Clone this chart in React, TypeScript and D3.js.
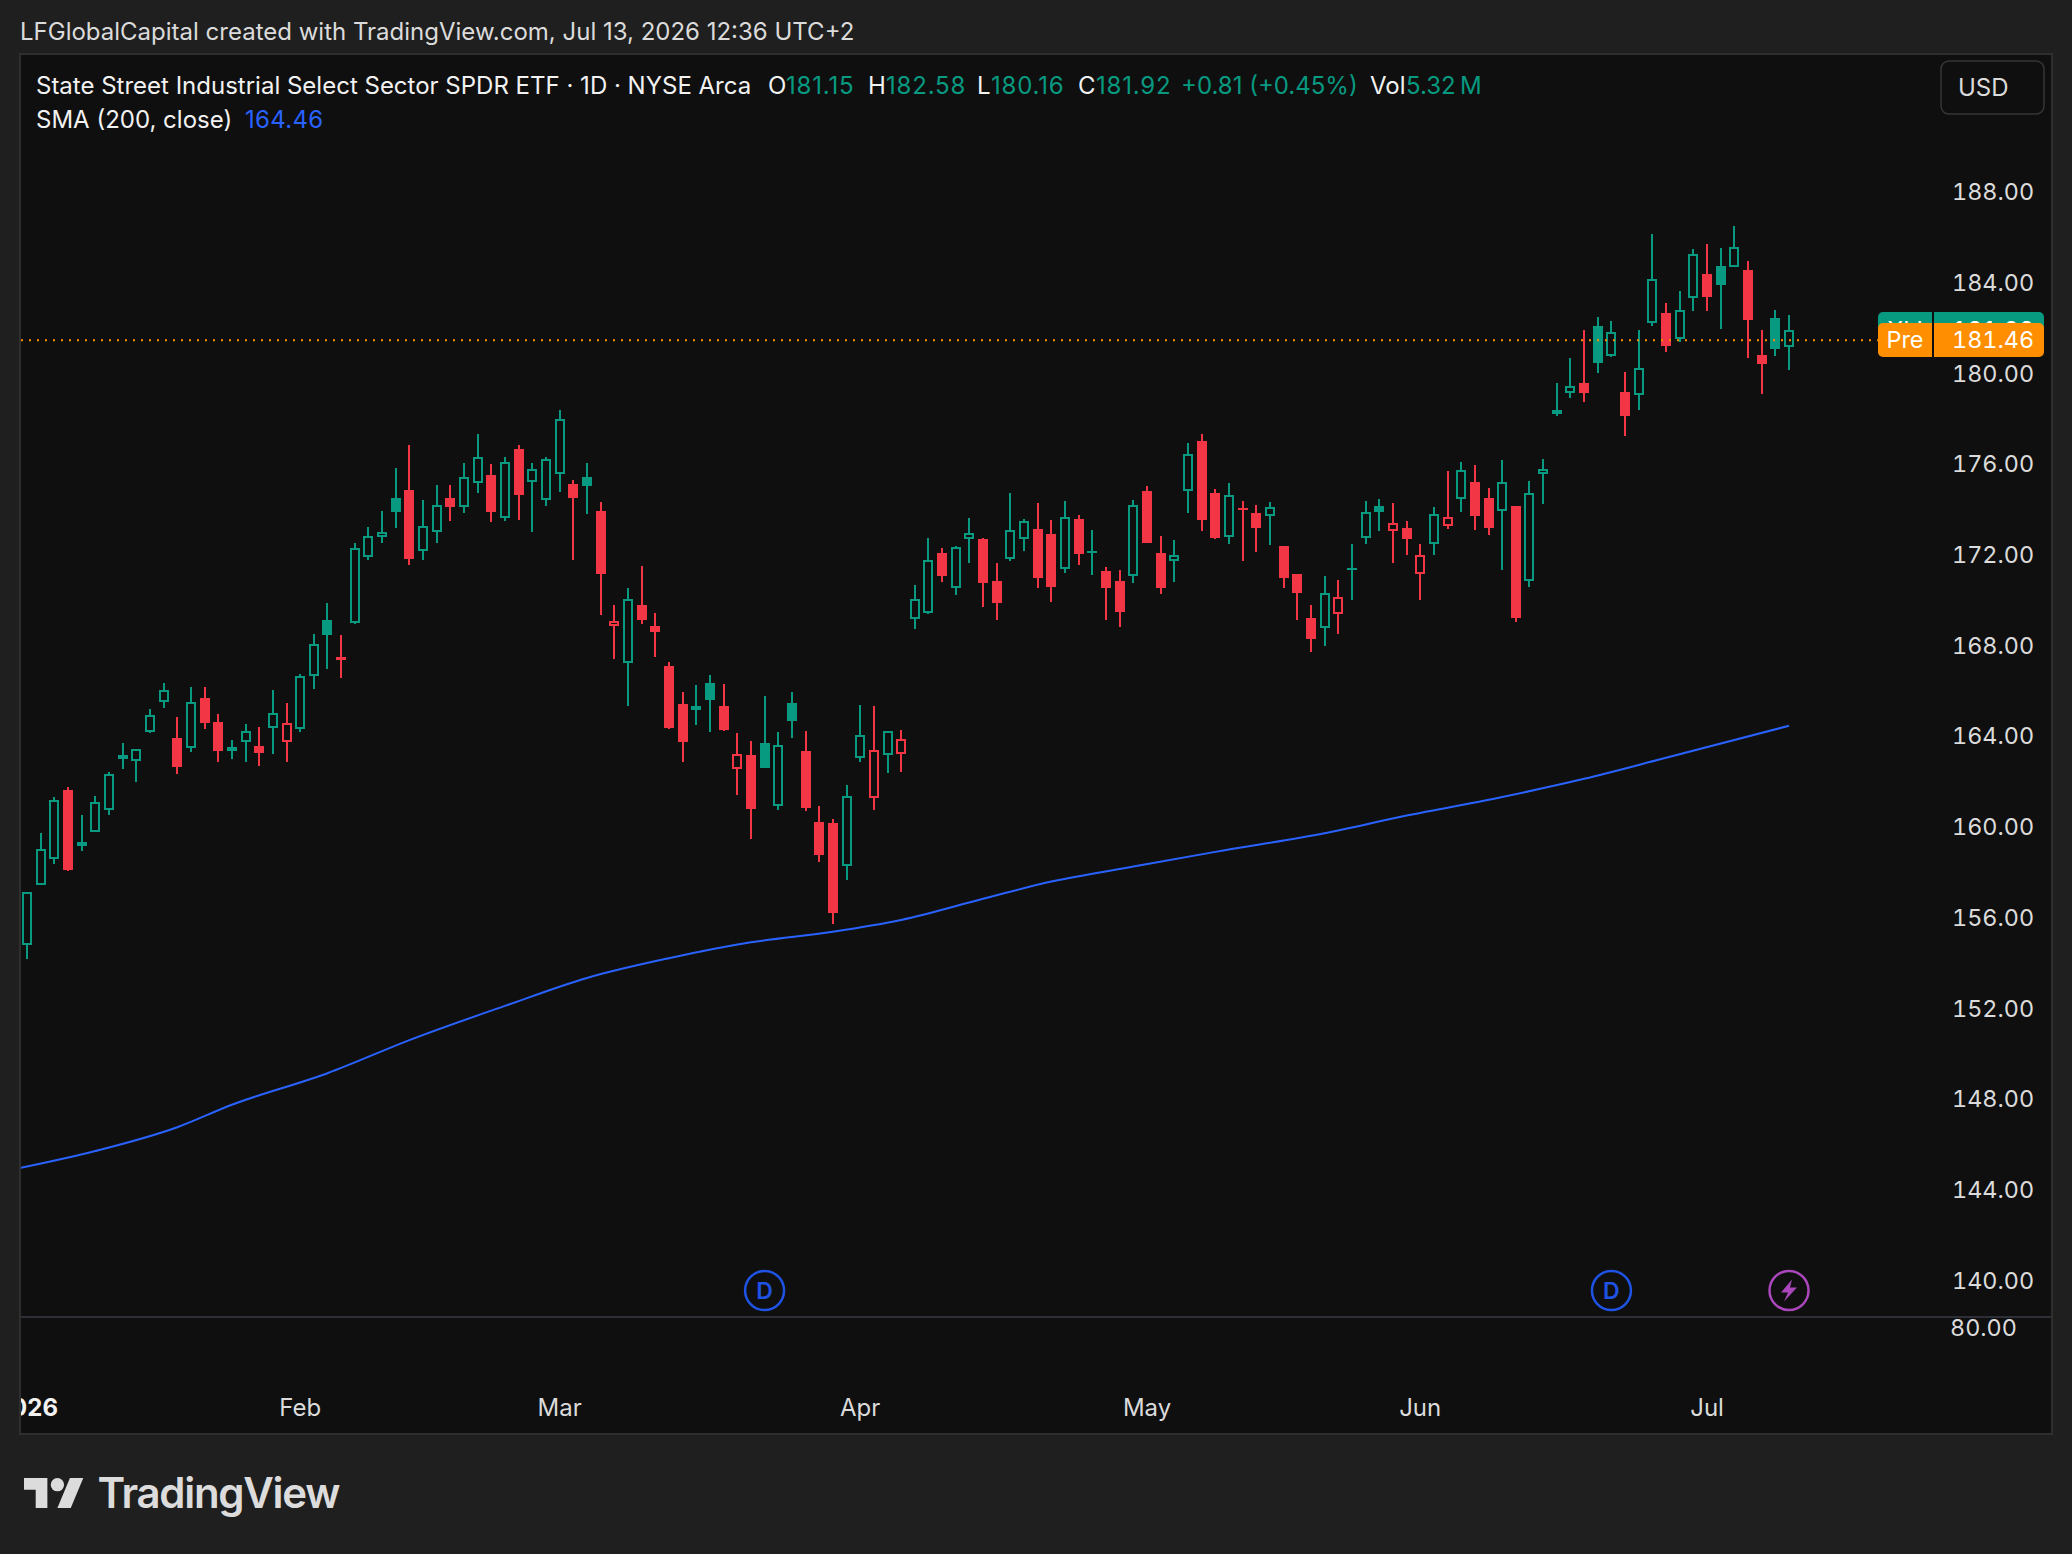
import React from 'react';
import * as d3 from 'd3';

const opens = [
  154.78, 157.45, 158.6, 161.63, 159.16, 159.79, 160.76, 162.99, 162.92, 164.2,
  165.52, 163.92, 163.49, 165.68, 164.63, 163.35, 163.76, 163.57, 164.38, 163.76,
  164.33, 166.64, 169.12, 167.49, 168.99, 171.9, 172.78, 174.5, 174.86, 172.17,
  173.0, 174.5, 174.11, 175.16, 175.52, 173.62, 176.66, 175.21, 174.41, 175.56,
  175.12, 175.43, 173.93, 168.86, 167.23, 169.78, 168.86, 167.1, 165.42, 165.15,
  166.35, 165.33, 162.57, 163.17, 163.7, 160.92, 165.46, 163.35, 160.22, 160.17,
  158.28, 163.05, 161.29, 163.16, 163.23, 169.18, 169.45, 172.08, 170.55, 172.71,
  172.69, 170.84, 171.83, 172.71, 173.14, 172.91, 171.39, 173.58, 172.08, 171.28,
  170.84, 171.06, 174.81, 172.08, 171.74, 174.83, 177.02, 174.72, 172.8, 174.06,
  173.84, 173.71, 172.39, 171.15, 169.21, 168.78, 169.4, 171.33, 172.75, 174.15,
  173.06, 173.18, 171.17, 172.49, 173.28, 174.47, 175.21, 174.5, 173.94, 174.15,
  170.84, 175.57, 178.21, 179.15, 179.57, 182.09, 180.78, 179.18, 179.06, 182.23,
  182.66, 181.53, 183.33, 184.38, 184.73, 184.7, 184.55, 180.81, 182.44, 181.15,
];
const highs = [
  157.14, 159.72, 161.3, 161.76, 160.51, 161.36, 162.42, 163.7, 163.42, 165.2,
  166.35, 164.85, 166.17, 166.17, 164.98, 163.83, 164.54, 164.41, 166.04, 165.46,
  166.74, 168.5, 169.87, 168.46, 172.52, 173.22, 173.93, 175.83, 176.84, 174.41,
  175.08, 175.08, 176.05, 177.32, 176.0, 176.31, 176.84, 176.05, 176.31, 178.38,
  175.3, 176.05, 174.33, 169.78, 170.53, 171.5, 169.43, 167.27, 165.95, 166.26,
  166.7, 166.3, 164.14, 163.79, 165.77, 164.19, 165.95, 164.23, 160.92, 160.35,
  161.85, 165.38, 165.33, 164.23, 164.27, 170.67, 172.74, 172.3, 172.39, 173.62,
  172.74, 171.64, 174.72, 173.58, 174.28, 173.53, 174.37, 173.75, 173.09, 171.46,
  171.33, 174.41, 175.03, 172.83, 172.65, 176.93, 177.32, 174.9, 175.16, 174.37,
  174.19, 174.33, 172.39, 171.15, 169.78, 171.06, 170.89, 172.47, 174.37, 174.46,
  174.28, 173.49, 172.47, 174.1, 175.69, 176.09, 175.96, 174.94, 176.18, 174.15,
  175.25, 176.22, 179.57, 180.67, 181.91, 182.48, 182.31, 180.06, 181.91, 186.14,
  183.1, 183.63, 185.48, 185.7, 185.52, 186.49, 184.95, 181.91, 182.79, 182.58,
];
const lows = [
  154.18, 157.45, 158.36, 158.06, 158.94, 159.79, 160.53, 162.55, 161.98, 164.14,
  165.24, 162.33, 163.3, 164.32, 162.86, 162.99, 162.86, 162.69, 163.22, 162.86,
  164.19, 166.08, 166.96, 166.57, 168.95, 171.77, 172.52, 173.18, 171.55, 171.77,
  172.52, 173.49, 173.84, 174.72, 173.44, 173.49, 173.53, 173.0, 174.15, 174.77,
  171.77, 173.8, 169.34, 167.4, 165.35, 168.95, 167.49, 164.32, 162.86, 164.49,
  164.19, 164.23, 161.41, 159.47, 162.6, 160.75, 163.92, 160.7, 158.45, 155.72,
  157.66, 162.86, 160.75, 162.38, 162.42, 168.73, 169.39, 170.8, 170.23, 171.64,
  169.7, 169.12, 171.72, 172.17, 170.53, 169.92, 171.2, 171.55, 171.11, 169.12,
  168.81, 170.75, 172.52, 170.27, 170.8, 173.84, 173.05, 172.69, 172.47, 171.72,
  172.12, 172.43, 170.53, 169.12, 167.71, 167.98, 168.51, 170.0, 172.47, 173.05,
  171.64, 171.99, 170.0, 171.99, 173.14, 173.89, 173.09, 172.87, 171.33, 169.03,
  170.58, 174.24, 178.12, 178.91, 178.73, 180.01, 180.72, 177.24, 178.38, 182.09,
  180.94, 181.38, 182.75, 182.75, 181.95, 184.7, 180.67, 179.09, 180.76, 180.16,
];
const closes = [
  157.14, 159.01, 161.17, 158.1, 159.33, 161.08, 162.32, 163.17, 163.42, 164.92,
  166.02, 162.64, 165.49, 164.58, 163.35, 163.52, 164.21, 163.26, 165.01, 164.57,
  166.64, 168.05, 168.46, 167.36, 172.28, 172.81, 172.99, 173.89, 171.81, 173.25,
  174.18, 174.11, 175.41, 176.3, 173.89, 176.07, 174.63, 175.77, 176.21, 177.97,
  174.5, 175.03, 171.15, 169.08, 170.03, 169.12, 168.59, 164.36, 163.74, 165.33,
  165.6, 164.27, 163.2, 160.79, 162.6, 163.6, 164.67, 160.83, 158.76, 156.2,
  161.35, 164.04, 163.38, 164.21, 163.86, 170.03, 171.75, 171.06, 172.33, 172.94,
  170.75, 169.87, 173.08, 173.47, 170.97, 170.58, 173.65, 172.03, 172.17, 170.53,
  169.48, 174.18, 172.52, 170.53, 171.97, 176.43, 173.53, 172.74, 174.62, 173.97,
  173.18, 174.09, 170.97, 170.31, 168.28, 170.3, 170.12, 171.42, 173.87, 173.88,
  173.38, 172.69, 171.97, 173.78, 173.65, 175.72, 173.71, 173.18, 175.19, 169.21,
  174.71, 175.77, 178.38, 179.43, 179.13, 180.45, 181.81, 178.12, 180.22, 184.14,
  181.2, 182.78, 185.25, 183.36, 183.89, 185.55, 182.35, 180.41, 181.07, 181.92,
];

const smaIndex = [-1, 5, 11, 15, 22, 28, 35, 41, 47, 53, 59, 64, 70, 75, 81, 87, 95, 101, 108, 114, 120, 129];
const smaValues = [
  144.9, 145.71, 146.76, 147.75, 149.14, 150.6, 152.11, 153.34, 154.21, 154.91, 155.38,
  155.9, 156.83, 157.59, 158.25, 158.9, 159.72, 160.5, 161.32, 162.12, 163.05, 164.46,
];

const priceTicks = [188, 184, 180, 176, 172, 168, 164, 160, 156, 152, 148, 144, 140];
const monthLabels = ['2026', 'Feb', 'Mar', 'Apr', 'May', 'Jun', 'Jul'];
const monthIndex = [0, 20, 39, 61, 82, 102, 123];
const dividendIndex = [54, 116];
const splitIndex = [129];
const prePrice = 181.46;
const lastClose = 181.92;

const UP = '#089981';
const DOWN = '#f23645';
const SMA_BLUE = '#2962ff';
const ORANGE = '#ff8f00';
const PANEL = '#0f0f0f';
const OUTER = '#1f1f1f';
const TEXT = '#dbdbdb';
const FONT = 'Inter, "Noto Sans", sans-serif';
const FONT_SIZE = 24;
const AXIS_SIZE = 23.4;

const WIDTH = 2072;
const HEIGHT = 1554;

const tabular: React.CSSProperties = { fontVariantNumeric: 'tabular-nums' };

const x = d3.scaleLinear().domain([0, 129]).range([27, 1789]);
const y = d3.scaleLinear().domain([140, 188]).range([1280.5, 191.9]);

const smaLine = d3
  .line<number>()
  .x((_, i) => x(smaIndex[i]))
  .y((d) => y(d))
  .curve(d3.curveMonotoneX);

const Candle: React.FC<{ i: number }> = ({ i }) => {
  const o = opens[i];
  const c = closes[i];
  const color = i === 0 || c >= closes[i - 1] ? UP : DOWN;
  const hollow = c > o;
  const cx = Math.round(x(i));
  const top = Math.round(y(Math.max(o, c)));
  const bottom = Math.max(Math.round(y(Math.min(o, c))), top + 2);
  const hi = Math.round(y(highs[i]));
  const lo = Math.round(y(lows[i]));
  const inner = bottom - top - 4;

  return (
    <g>
      {hi < top && <rect x={cx - 1} y={hi} width={2} height={top - hi} fill={color} />}
      {lo > bottom && <rect x={cx - 1} y={bottom} width={2} height={lo - bottom} fill={color} />}
      {hollow && inner > 0 ? (
        <path
          fillRule="evenodd"
          fill={color}
          d={`M${cx - 5},${top}h10V${bottom}h-10ZM${cx - 3},${top + 2}V${bottom - 2}h6V${top + 2}Z`}
        />
      ) : (
        <rect x={cx - 5} y={top} width={10} height={bottom - top} fill={color} />
      )}
    </g>
  );
};

export default function App() {
  const headerY = 94;
  const smaY = 128;
  const preY = y(prePrice);
  const closeY = y(lastClose);

  return (
    <svg
      width={WIDTH}
      height={HEIGHT}
      style={{ position: 'absolute', left: 0, top: 0, display: 'block', background: OUTER }}
      fontFamily={FONT}
    >
      <defs>
        <clipPath id="pane">
          <rect x={21} y={55} width={2030} height={1378} />
        </clipPath>
      </defs>

      <text x={20} y={40} fontSize={FONT_SIZE} fill={TEXT}>
        LFGlobalCapital created with TradingView.com, Jul 13, 2026 12:36 UTC+2
      </text>

      <rect x={20} y={54} width={2032} height={1380} fill={PANEL} stroke="#2e2e2e" strokeWidth={2} />

      {/* candles */}
      <g clipPath="url(#pane)">
        {opens.map((_, i) => (
          <Candle key={i} i={i} />
        ))}
        <path d={smaLine(smaValues) ?? ''} fill="none" stroke={SMA_BLUE} strokeWidth={2} />
        <line
          x1={21}
          x2={1878}
          y1={preY}
          y2={preY}
          stroke={ORANGE}
          strokeWidth={2}
          strokeDasharray="2 6"
        />
      </g>

      {/* legend */}
      <g fontSize={FONT_SIZE}>
        <text x={36} y={headerY} fill="#f2f2f2">
          State Street Industrial Select Sector SPDR ETF · 1D · NYSE Arca
        </text>
        <text x={768} y={headerY} fill="#f2f2f2">O</text>
        <text x={786} y={headerY} fill={UP} letterSpacing={0.8}>181.15</text>
        <text x={868} y={headerY} fill="#f2f2f2">H</text>
        <text x={886} y={headerY} fill={UP} letterSpacing={0.8}>182.58</text>
        <text x={977} y={headerY} fill="#f2f2f2">L</text>
        <text x={991} y={headerY} fill={UP} letterSpacing={0.8}>180.16</text>
        <text x={1078} y={headerY} fill="#f2f2f2">C</text>
        <text x={1096} y={headerY} fill={UP} letterSpacing={0.8}>181.92</text>
        <text x={1181} y={headerY} fill={UP}>+0.81 (+0.45%)</text>
        <text x={1370} y={headerY} fill="#f2f2f2">Vol</text>
        <text x={1406} y={headerY} fill={UP}>5.32{'\u2009'}M</text>
        <text x={36} y={smaY} fill="#f2f2f2">SMA (200, close)</text>
        <text x={245} y={smaY} fill={SMA_BLUE} letterSpacing={0.3}>164.46</text>
      </g>

      <rect x={1941} y={61} width={103} height={53} rx={8} fill={PANEL} stroke="#363636" strokeWidth={1.5} />
      <text x={1958} y={96} fontSize={FONT_SIZE} fill={TEXT}>USD</text>

      {/* price axis */}
      <g fontSize={AXIS_SIZE} fill={TEXT} style={tabular}>
        {priceTicks.map((t) => (
          <text key={t} x={1952} y={y(t)} dy="0.35em">
            {t.toFixed(2)}
          </text>
        ))}
        <text x={1950} y={1328} dy="0.35em">80.00</text>
      </g>

      {/* last price labels */}
      <rect x={1878} y={312} width={166} height={30} rx={5} fill={UP} />
      <g fontSize={AXIS_SIZE} fill="#ffffff" style={tabular}>
        <text x={1905} y={closeY} dy="0.35em" textAnchor="middle">XLI</text>
        <text x={1952} y={closeY} dy="0.35em">{lastClose.toFixed(2)}</text>
      </g>
      <rect x={1878} y={323} width={166} height={34} rx={5} fill={ORANGE} />
      <rect x={1932} y={312} width={2} height={45} fill={PANEL} />
      <g fontSize={AXIS_SIZE} fill="#ffffff" style={tabular}>
        <text x={1905} y={preY} dy="0.35em" textAnchor="middle">Pre</text>
        <text x={1952} y={preY} dy="0.35em">{prePrice.toFixed(2)}</text>
      </g>

      {/* events */}
      {dividendIndex.map((d) => (
        <g key={d} transform={`translate(${x(d)},1290.5)`}>
          <circle r={19.5} fill="none" stroke="#1e53e5" strokeWidth={2.5} />
          <text textAnchor="middle" dy="0.36em" fontSize={23} fontWeight={600} fill="#1e53e5">D</text>
        </g>
      ))}
      {splitIndex.map((d) => (
        <g key={d} transform={`translate(${x(d)},1290.5)`}>
          <circle r={19.5} fill="none" stroke="#ab47bc" strokeWidth={2.5} />
          <path d="M3,-11 L-8,2 L-1,2 L-5,11 L8,-3 L1,-3 Z" fill="#ab47bc" />
        </g>
      ))}

      {/* pane separator and time axis */}
      <rect x={21} y={1316} width={2030} height={2} fill="#2e2e38" />
      <g clipPath="url(#pane)" fontSize={FONT_SIZE} fill={TEXT} textAnchor="middle">
        {monthLabels.map((m, i) => (
          <text
            key={m}
            x={x(monthIndex[i])}
            y={1408}
            dy="0.35em"
            fontWeight={i === 0 ? 700 : 400}
            fill={i === 0 ? '#f2f2f2' : TEXT}
          >
            {m}
          </text>
        ))}
      </g>

      {/* logo */}
      <g transform="translate(24,1471.3) scale(1.67)" fill="#dcdcdc">
        <path d="M14 22H7V11H0V4h14v18zM28 22h-8l7.5-18h8L28 22z" />
        <circle cx={20} cy={8} r={4} />
      </g>
      <text x={97.5} y={1508} fontSize={42} fontWeight={600} fill="#dcdcdc" letterSpacing={-1.3}>
        TradingView
      </text>
    </svg>
  );
}
